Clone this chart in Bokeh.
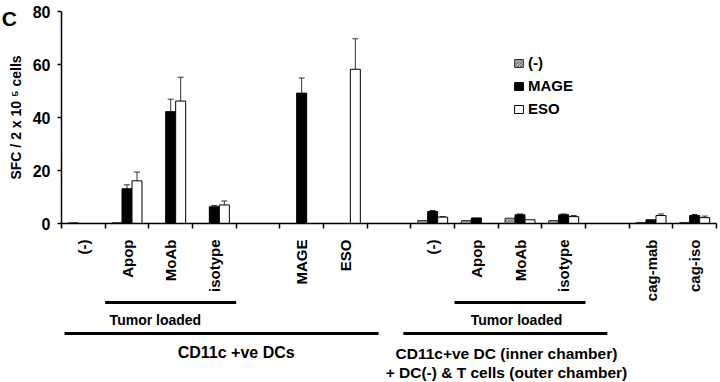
import numpy as np
from bokeh.plotting import figure
from bokeh.models import (ColumnDataSource, FixedTicker, Range1d, Legend,
                          LegendItem, Whisker, TeeHead)
from bokeh.core.properties import value
from bokeh.embed import file_html
from bokeh.resources import INLINE

# ---- data ----
slots = ["(-)", "Apop", "MoAb", "isotype", "", "MAGE", "ESO", "",
         "(-)", "Apop", "MoAb", "isotype", "", "cag-mab", "cag-iso"]
neg = [0.3, 0.3, 0, 0, 0, 0, 0, 0, 1.1, 1.1, 2.0, 1.1, 0, 0.4, 0.4]
mage = [0, 13.1, 42.2, 6.3, 0, 49.2, 0, 0, 4.5, 2.1, 3.3, 3.3, 0, 1.4, 3.0]
eso = [0, 16.1, 46.2, 7.0, 0, 0, 58.2, 0, 2.4, 0, 1.4, 2.6, 0, 3.0, 2.2]
mage_err = [0, 1.5, 4.7, 0.5, 0, 5.7, 0, 0, 0.4, 0, 0.3, 0.3, 0, 0, 0.4]
eso_err = [0, 3.3, 9.0, 1.5, 0, 0, 11.5, 0, 0.2, 0, 0, 0.4, 0, 0.6, 0.6]
series = ["(-)", "MAGE", "ESO"]
y_ticks = [0, 20, 40, 60, 80]
y_label = "SFC / 2 x 10 \u2075 cells"
panel_letter = "C"
bracket_text = "Tumor loaded"
group_text_left = "CD11c +ve DCs"
group_text_right = ["CD11c+ve DC (inner chamber)", "+ DC(-) & T cells (outer chamber)"]

FONT = "Liberation Sans"
n = len(slots)
centers = np.arange(n) + 0.5
bw = 0.229

p = figure(width=720, height=382, output_backend="svg", toolbar_location=None,
           x_range=Range1d(0, n), y_range=Range1d(0, 80),
           min_border_left=61, min_border_right=4, min_border_top=11,
           min_border_bottom=159)
p.outline_line_color = None
p.xgrid.visible = False
p.ygrid.visible = False

r_neg = p.vbar(x=centers - bw, top=neg, width=bw, fill_color="#b8b8b8",
               hatch_pattern="x", hatch_color="#555555", hatch_scale=3,
               hatch_weight=0.6, line_color="#333333", line_width=1)
r_mage = p.vbar(x=centers, top=mage, width=bw, fill_color="black",
                line_color="black", line_width=1)
r_eso = p.vbar(x=centers + bw, top=eso, width=bw, fill_color="white",
               line_color="black", line_width=1)

# error bars (upper only)
def add_err(offset, vals, errs):
    v = np.array(vals, float); e = np.array(errs, float)
    m = e > 0
    s = ColumnDataSource(dict(x=(centers + offset)[m], lo=v[m], hi=(v + e)[m]))
    w = Whisker(base="x", lower="lo", upper="hi", source=s, dimension="height",
                line_color="#333333", line_width=1, lower_head=None,
                upper_head=TeeHead(size=6, line_color="#333333", line_width=1))
    p.add_layout(w)

add_err(0, mage, mage_err)
add_err(bw, eso, eso_err)

# y axis
p.yaxis.ticker = FixedTicker(ticks=y_ticks)
p.yaxis.minor_tick_line_color = None
p.yaxis.major_tick_out = 4
p.yaxis.major_tick_in = 0
p.yaxis.axis_line_width = 1.5
p.yaxis.major_tick_line_width = 1.5
p.yaxis.major_label_text_font = FONT
p.yaxis.major_label_text_font_style = "bold"
p.yaxis.major_label_text_font_size = "16px"
p.yaxis.major_label_text_color = "black"
p.yaxis.major_label_standoff = 7
p.yaxis.axis_label = y_label
p.yaxis.axis_label_text_font = FONT
p.yaxis.axis_label_text_font_style = "bold"
p.yaxis.axis_label_text_font_size = "14px"
p.yaxis.axis_label_text_color = "black"
p.yaxis.axis_label_standoff = 6

# x axis: minor ticks at slot boundaries, labels at slot centres
lab_idx = [i for i, s in enumerate(slots) if s]
p.xaxis.ticker = FixedTicker(ticks=[float(centers[i]) for i in lab_idx],
                             minor_ticks=list(range(n + 1)))
p.xaxis.major_label_overrides = {float(centers[i]): slots[i] for i in lab_idx}
p.xaxis.major_tick_line_color = None
p.xaxis.major_tick_out = 0
p.xaxis.major_tick_in = 0
p.xaxis.minor_tick_out = 5
p.xaxis.minor_tick_in = 0
p.xaxis.minor_tick_line_width = 1.5
p.xaxis.axis_line_width = 1.5
p.xaxis.major_label_orientation = np.pi / 2
p.xaxis.major_label_standoff = 11
p.xaxis.major_label_text_font = FONT
p.xaxis.major_label_text_font_style = "bold"
p.xaxis.major_label_text_font_size = "15px"
p.xaxis.major_label_text_color = "black"

# brackets below the axis
bx0 = [1, 9, 0.07, 7.83]
bx1 = [4, 12, 7.26, 12.5]
by = [-29.8, -29.8, -41.5, -41.5]
seg = p.segment(x0=bx0, y0=by, x1=bx1, y1=by, line_color="black", line_width=3)
seg.level = "overlay"

def lab(x, y, t, size="14px", align="center", base="middle"):
    r = p.text(x=[x], y=[y], text=[t], text_font=value(FONT),
               text_font_style="bold", text_font_size=size, text_align=align,
               text_baseline=base, text_color="black")
    r.level = "overlay"

lab(2.15, -36.6, bracket_text)
lab(10.42, -36.6, bracket_text)
lab(4.0, -48.7, group_text_left, "16px")
lab(10.19, -49.0, group_text_right[0], "15.5px")
lab(10.19, -56.2, group_text_right[1], "15.5px")
lab(-1.37, 81.8, panel_letter, "21px", "left", "top")

legend = Legend(items=[LegendItem(label=series[0], renderers=[r_neg]),
                       LegendItem(label=series[1], renderers=[r_mage]),
                       LegendItem(label=series[2], renderers=[r_eso])],
                location=(452, 106), padding=0, margin=0, spacing=6,
                glyph_width=11, glyph_height=10, label_height=15,
                label_standoff=4, border_line_color=None,
                background_fill_alpha=0, label_text_font=FONT,
                label_text_font_style="bold", label_text_font_size="15px",
                label_text_color="black")
p.add_layout(legend)

open("out.html", "w").write(file_html(p, INLINE))
